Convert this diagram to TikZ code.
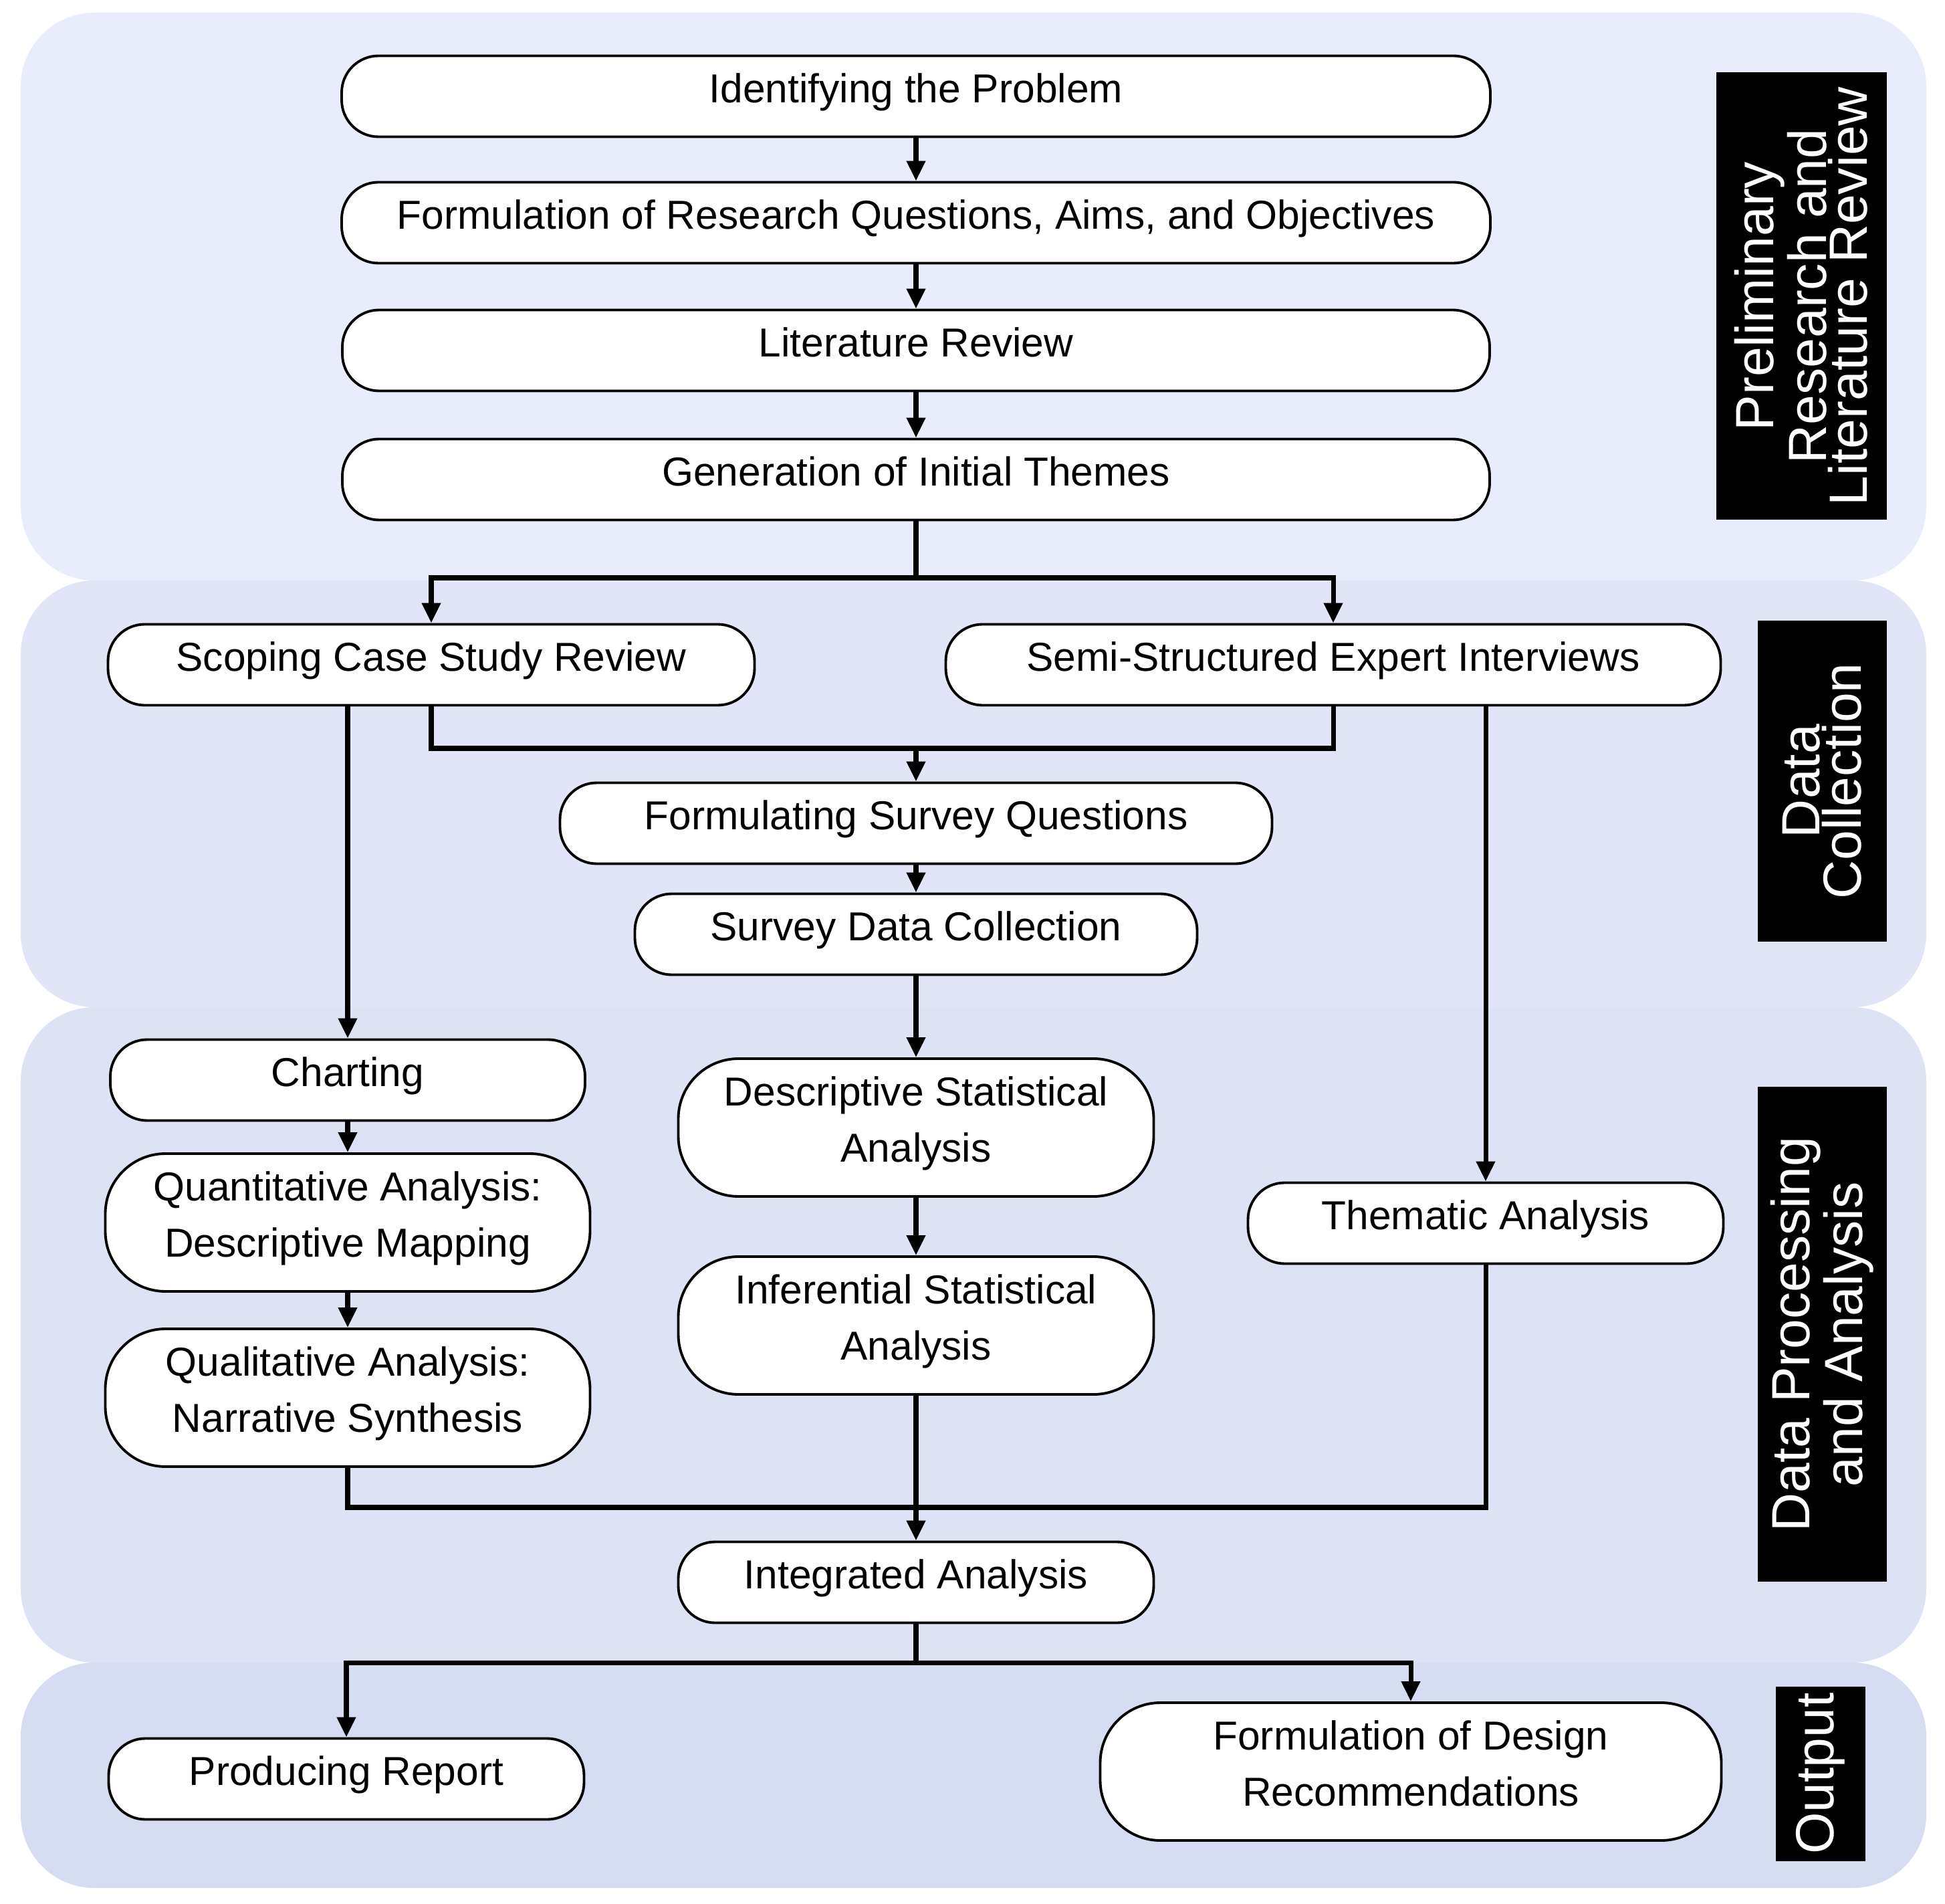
\documentclass[tikz,border=0pt]{standalone}
\usepackage{fontspec}
\setmainfont{Liberation Sans}
\usetikzlibrary{arrows.meta}
\definecolor{bandA}{RGB}{233,237,251}
\definecolor{bandB}{RGB}{225,229,247}
\definecolor{bandC}{RGB}{222,226,245}
\definecolor{bandD}{RGB}{214,220,241}
\begin{document}
\begin{tikzpicture}[band/.style={rounded corners=1.1cm},stepbox/.style={draw, line width=1.1pt, fill=white, rounded corners=0.55cm, minimum height=1.21cm, inner sep=2pt, text depth=0.25cm, align=center, font=\fontsize{17.2}{23.8}\selectfont},tallbox/.style={stepbox, rounded corners=0.9cm, minimum height=2.06cm},link/.style={line width=2pt},flow/.style={link, -{Triangle[length=0.3cm,width=0.27cm]}},phase/.style={fill=black, text=white, rotate=90, align=center, inner sep=0pt, font=\fontsize{22.9}{17.5}\selectfont}]
\useasboundingbox (0,0) rectangle (29.09,-28.47);
\fill[band, bandA] (0.31,-0.19) rectangle (28.81,-8.68);
\fill[band, bandB] (0.31,-8.68) rectangle (28.81,-15.06);
\fill[band, bandC] (0.31,-15.06) rectangle (28.81,-24.86);
\fill[band, bandD] (0.31,-24.86) rectangle (28.81,-28.23);
\node[phase, minimum width=6.69cm, minimum height=2.55cm] (prelim) at (26.94,-4.43) {Preliminary\\Research and\\Literature Review};
\node[phase, minimum width=4.80cm, minimum height=1.93cm] (collect) at (27.25,-11.68) {Data\\Collection};
\node[phase, minimum width=7.40cm, minimum height=1.93cm] (process) at (27.25,-19.95) {Data Processing\\and Analysis};
\node[phase, minimum width=2.61cm, minimum height=1.34cm] (output) at (27.23,-26.52) {Output};
\node[stepbox, minimum width=17.18cm] (ident) at (13.70,-1.44) {Identifying the Problem};
\node[stepbox, minimum width=17.18cm] (resq) at (13.70,-3.33) {Formulation of Research Questions, Aims, and Objectives};
\node[stepbox, minimum width=17.16cm] (litrev) at (13.70,-5.24) {Literature Review};
\node[stepbox, minimum width=17.16cm] (themes) at (13.70,-7.17) {Generation of Initial Themes};
\node[stepbox, minimum width=9.67cm] (scoping) at (6.45,-9.94) {Scoping Case Study Review};
\node[stepbox, minimum width=11.59cm] (semi) at (19.94,-9.94) {Semi-Structured Expert Interviews};
\node[stepbox, minimum width=10.65cm] (survq) at (13.70,-12.31) {Formulating Survey Questions};
\node[stepbox, minimum width=8.41cm] (survd) at (13.70,-13.97) {Survey Data Collection};
\node[stepbox, minimum width=7.10cm] (charting) at (5.20,-16.15) {Charting};
\node[tallbox, minimum width=7.25cm] (quant) at (5.20,-18.28) {Quantitative Analysis:\\Descriptive Mapping};
\node[tallbox, minimum width=7.25cm] (qual) at (5.20,-20.90) {Qualitative Analysis:\\Narrative Synthesis};
\node[tallbox, minimum width=7.11cm] (desc) at (13.70,-16.86) {Descriptive Statistical\\Analysis};
\node[tallbox, minimum width=7.11cm] (infer) at (13.70,-19.82) {Inferential Statistical\\Analysis};
\node[stepbox, minimum width=7.11cm] (thematic) at (22.22,-18.29) {Thematic Analysis};
\node[stepbox, minimum width=7.11cm] (integ) at (13.70,-23.66) {Integrated Analysis};
\node[stepbox, minimum width=7.11cm] (report) at (5.18,-26.60) {Producing Report};
\node[tallbox, minimum width=9.29cm] (design) at (21.10,-26.49) {Formulation of Design\\Recommendations};
\coordinate (j1) at (13.70,-8.64);
\coordinate (j2) at (13.70,-11.19);
\coordinate (j3) at (13.70,-22.54);
\coordinate (j4) at (13.70,-24.86);
\draw[flow] (ident) -- (resq);
\draw[flow] (resq) -- (litrev);
\draw[flow] (litrev) -- (themes);
\draw[link] (themes) -- (j1);
\draw[flow] (j1) -| (scoping);
\draw[flow] (j1) -| (semi);
\draw[link] (scoping) |- (j2) -| (semi);
\draw[flow] (j2) -- (survq);
\draw[flow] (survq) -- (survd);
\draw[flow] (survd) -- (desc);
\draw[flow] (scoping.south -| charting) -- (charting);
\draw[flow] (semi.south -| thematic) -- (thematic);
\draw[flow] (charting) -- (quant);
\draw[flow] (quant) -- (qual);
\draw[flow] (desc) -- (infer);
\draw[link] (qual) |- (j3) -| (thematic);
\draw[flow] (infer) -- (integ);
\draw[link] (integ) -- (j4);
\draw[flow] (j4) -| (report);
\draw[flow] (j4) -| (design);
\end{tikzpicture}
\end{document}
